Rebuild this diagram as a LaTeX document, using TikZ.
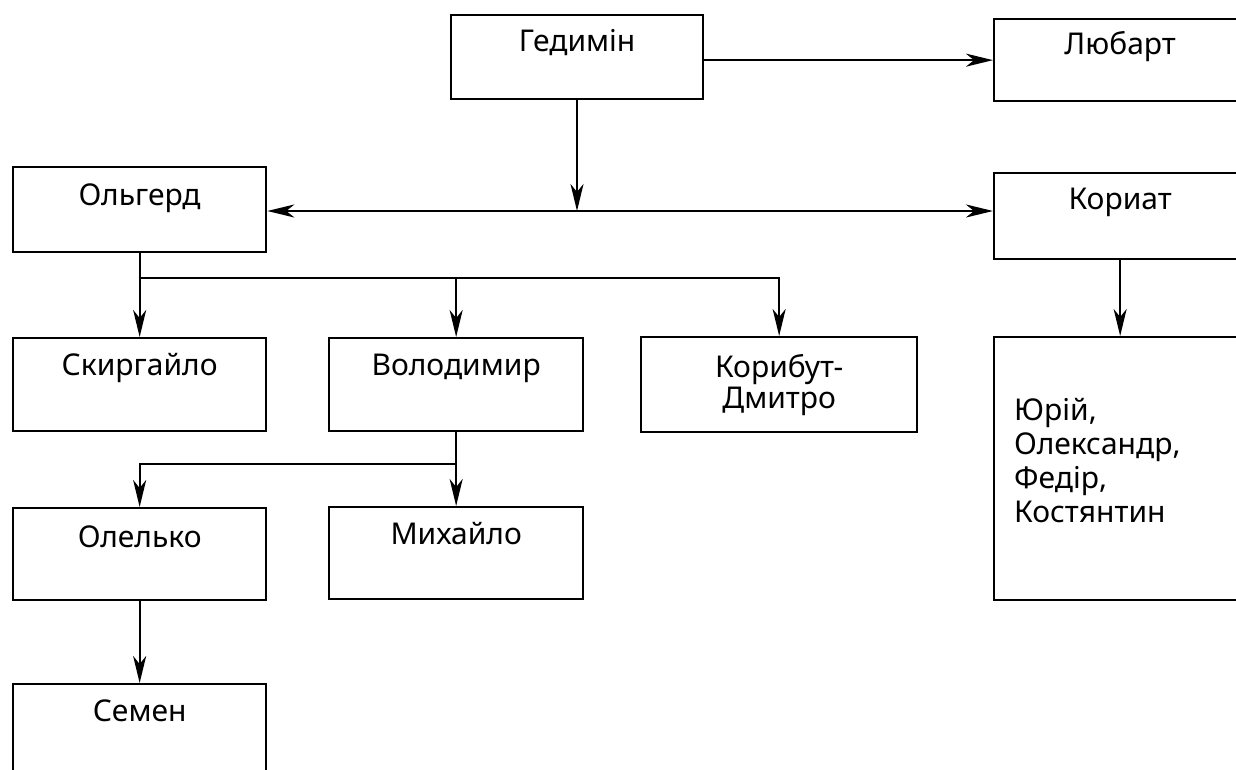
\documentclass[tikz,border=0pt]{standalone}
\usepackage{fontspec}
\setmainfont{Noto Sans}
\usetikzlibrary{arrows.meta,calc}
\begin{document}
\begin{tikzpicture}[x=1pt,y=-1pt,
  box/.style={draw, line width=2.3pt, inner sep=0pt, anchor=north west},
  lbl/.style={anchor=base, inner sep=0pt, font=\fontsize{30}{34}\selectfont},
  tip/.style={Stealth[length=27pt,width=13pt,inset=8pt]},
  arr/.style={line width=2.3pt, -{Stealth[length=27pt,width=13pt,inset=8pt]}}]
\useasboundingbox (0,0) rectangle (1236,770);
\clip (0,0) rectangle (1236,770);
% boxes
\node[box, minimum width=252pt, minimum height=84pt] (ged) at (450,14) {};
\node[box, minimum width=252pt, minimum height=82pt] (lub) at (993,18) {};
\node[box, minimum width=253pt, minimum height=85pt] (olg) at (12,166) {};
\node[box, minimum width=252pt, minimum height=86pt] (kor) at (993,172) {};
\node[box, minimum width=253pt, minimum height=93pt] (skir) at (12,337) {};
\node[box, minimum width=254pt, minimum height=93pt] (vol) at (328,337) {};
\node[box, minimum width=276pt, minimum height=95pt] (korib) at (640,336) {};
\node[box, minimum width=252pt, minimum height=263pt] (yur) at (993,336) {};
\node[box, minimum width=253pt, minimum height=92pt] (olel) at (12,507) {};
\node[box, minimum width=254pt, minimum height=92pt] (mykh) at (328,506) {};
\node[box, minimum width=253pt, minimum height=120pt] (sem) at (12,683) {};
% labels
\node[lbl] (tged) at ([yshift=-38pt]ged.north) {Гедимін};
\node[lbl] (tlub) at ([yshift=-37pt]lub.north) {Любарт};
\node[lbl] (tolg) at ([yshift=-39pt]olg.north) {Ольгерд};
\node[lbl] (tkor) at ([yshift=-38pt]kor.north) {Кориат};
\node[lbl] (tskir) at ([yshift=-38pt]skir.north) {Скиргайло};
\node[lbl] (tvol) at ([yshift=-38pt]vol.north) {Володимир};
\node[lbl, align=center, font=\fontsize{30}{31}\selectfont] (tkorib) at ([yshift=-72pt]korib.north) {Корибут-\\Дмитро};
\node[lbl, align=left, anchor=base west, font=\fontsize{30}{34}\selectfont] (tyur) at ([xshift=21pt,yshift=-186pt]yur.north west) {Юрій,\\Олександр,\\Федір,\\Костянтин};
\node[lbl] (tolel) at ([yshift=-40pt]olel.north) {Олелько};
\node[lbl] (tmykh) at ([yshift=-38pt]mykh.north) {Михайло};
\node[lbl] (tsem) at ([yshift=-38pt]sem.north) {Семен};
% junctions
\coordinate (j1) at (577,211);
\coordinate (j2) at (138.5,278);
\coordinate (j3) at (455,464);
% connectors
\draw[arr] (lub.west -| ged.east) -- (lub.west);
\draw[arr] (ged.south -| j1) -- (j1);
\draw[line width=2.3pt, {Stealth[length=27pt,width=13pt,inset=8pt]}-{Stealth[length=27pt,width=13pt,inset=8pt]}] (j1 -| olg.east) -- (j1 -| kor.west);
\draw[arr] (olg.south) -- (skir.north);
\draw[arr] (j2) -| (vol.north);
\draw[arr] (j2) -| (korib.north);
\draw[arr] (vol.south) -- (mykh.north);
\draw[arr] (j3) -| (olel.north);
\draw[arr] (kor.south) -- (yur.north);
\draw[arr] (olel.south) -- (sem.north);
\end{tikzpicture}
\end{document}
